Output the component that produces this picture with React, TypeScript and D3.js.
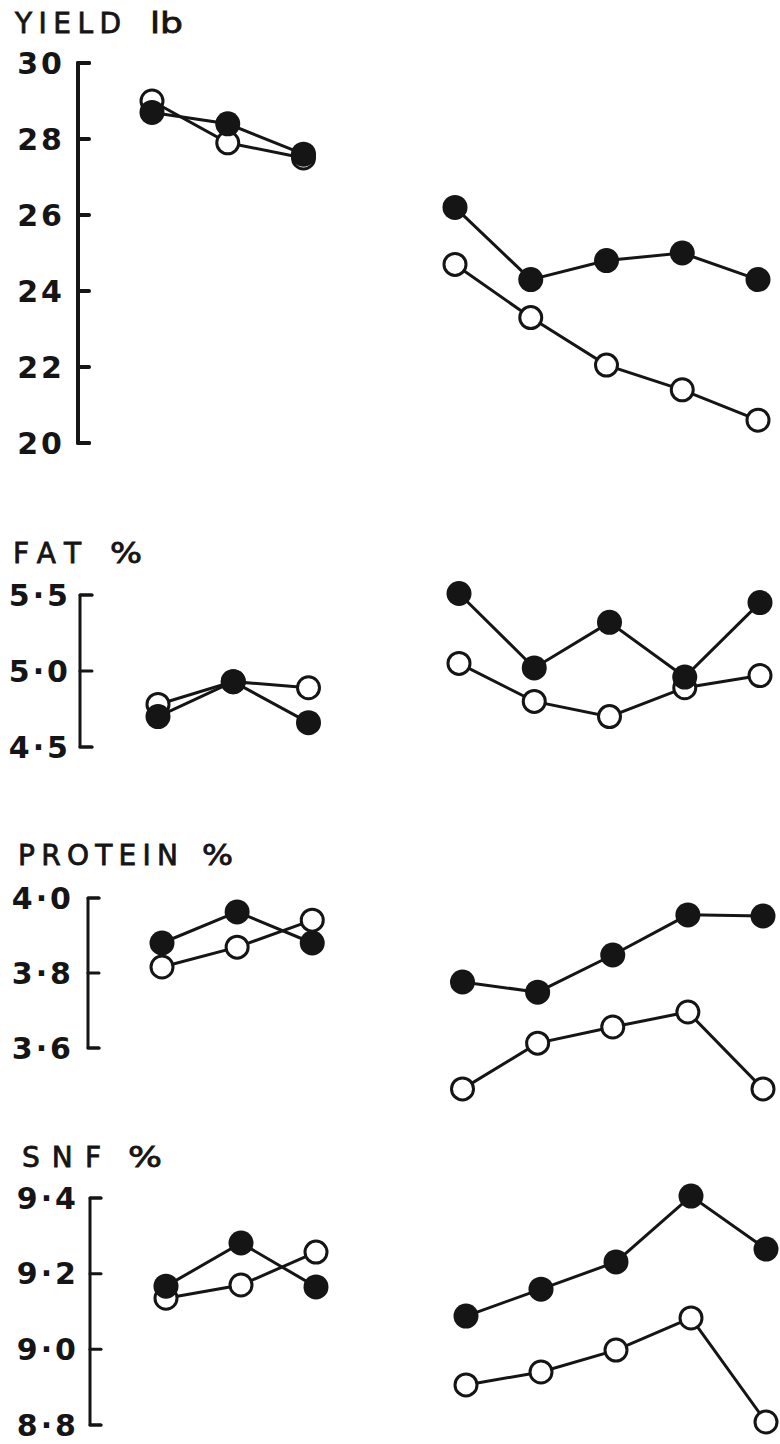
import React from "react";
import * as d3 from "d3";

// ---- Data ----
const leftPeriods = [1, 2, 3];
const rightPeriods = [5, 6, 7, 8, 9];

const yieldFilledLeft = [28.7, 28.4, 27.6];
const yieldOpenLeft = [29.0, 27.9, 27.5];
const yieldFilledRight = [26.2, 24.3, 24.8, 25.0, 24.3];
const yieldOpenRight = [24.7, 23.3, 22.05, 21.4, 20.6];

const fatFilledLeft = [4.7, 4.93, 4.66];
const fatOpenLeft = [4.78, 4.93, 4.89];
const fatFilledRight = [5.51, 5.02, 5.32, 4.96, 5.45];
const fatOpenRight = [5.05, 4.8, 4.7, 4.89, 4.97];

const proteinFilledLeft = [3.88, 3.963, 3.88];
const proteinOpenLeft = [3.816, 3.869, 3.941];
const proteinFilledRight = [3.776, 3.749, 3.848, 3.955, 3.952];
const proteinOpenRight = [3.491, 3.613, 3.656, 3.696, 3.491];

const snfFilledLeft = [9.167, 9.281, 9.165];
const snfOpenLeft = [9.135, 9.17, 9.257];
const snfFilledRight = [9.088, 9.159, 9.231, 9.405, 9.265];
const snfOpenRight = [8.906, 8.94, 8.998, 9.083, 8.808];

const yieldTicks = [20, 22, 24, 26, 28, 30];
const fatTicks = [4.5, 5.0, 5.5];
const proteinTicks = [3.6, 3.8, 4.0];
const snfTicks = [8.8, 9.0, 9.2, 9.4];

const titles = ["YIELD", "FAT", "PROTEIN", "SNF"];
const units = ["lb", "%", "%", "%"];

// ---- Layout ----
type Panel = {
  title: string;
  unit: string;
  titleX: number;
  titleW: number;
  unitX: number;
  unitW: number;
  titleY: number;
  domain: [number, number];
  yRange: [number, number];
  xRange: [number, number];
  axisX: number;
  axisW: number;
  tickLen: number;
  labelRight: number;
  ticks: number[];
  fmt: (v: number) => string;
  filledLeft: number[];
  openLeft: number[];
  filledRight: number[];
  openRight: number[];
};

const dotFmt = (v: number) => d3.format(".1f")(v).replace(".", "\u00b7");
const intFmt = (v: number) => d3.format("d")(v);

const panels: Panel[] = [
  {
    title: titles[0], unit: units[0], titleX: 15, titleW: 106, unitX: 150, unitW: 33, titleY: 33,
    domain: [20, 30], yRange: [443, 63], xRange: [152, 758],
    axisX: 78, axisW: 4, tickLen: 11, labelRight: 65, ticks: yieldTicks, fmt: intFmt,
    filledLeft: yieldFilledLeft, openLeft: yieldOpenLeft,
    filledRight: yieldFilledRight, openRight: yieldOpenRight,
  },
  {
    title: titles[1], unit: units[1], titleX: 13, titleW: 68, unitX: 110, unitW: 32, titleY: 563,
    domain: [4.5, 5.5], yRange: [747, 595], xRange: [158, 760],
    axisX: 80, axisW: 3, tickLen: 12, labelRight: 71, ticks: fatTicks, fmt: dotFmt,
    filledLeft: fatFilledLeft, openLeft: fatOpenLeft,
    filledRight: fatFilledRight, openRight: fatOpenRight,
  },
  {
    title: titles[2], unit: units[2], titleX: 18, titleW: 160, unitX: 202, unitW: 31, titleY: 865,
    domain: [3.6, 4.0], yRange: [1048, 898], xRange: [162, 763],
    axisX: 88, axisW: 3, tickLen: 11, labelRight: 74, ticks: proteinTicks, fmt: dotFmt,
    filledLeft: proteinFilledLeft, openLeft: proteinOpenLeft,
    filledRight: proteinFilledRight, openRight: proteinOpenRight,
  },
  {
    title: titles[3], unit: units[3], titleX: 22, titleW: 79, unitX: 128, unitW: 34, titleY: 1167,
    domain: [8.8, 9.4], yRange: [1425, 1198], xRange: [166, 766],
    axisX: 90, axisW: 3, tickLen: 11, labelRight: 79, ticks: snfTicks, fmt: dotFmt,
    filledLeft: snfFilledLeft, openLeft: snfOpenLeft,
    filledRight: snfFilledRight, openRight: snfOpenRight,
  },
];

const FONT = "'DejaVu Sans', sans-serif";
const INK = "#151515";
const R_FILLED = 12.5;
const R_OPEN = 11;

function PanelView({ p }: { p: Panel }) {
  const x = d3.scaleLinear().domain([1, 9]).range(p.xRange);
  const y = d3.scaleLinear().domain(p.domain).range(p.yRange);
  const line = d3
    .line<[number, number]>()
    .x((d) => x(d[0]))
    .y((d) => y(d[1]));

  const groups = [
    { periods: leftPeriods, filled: p.filledLeft, open: p.openLeft },
    { periods: rightPeriods, filled: p.filledRight, open: p.openRight },
  ];

  const [lo, hi] = p.domain;
  const bracket = d3.path();
  bracket.moveTo(p.axisX + p.tickLen, y(hi));
  bracket.lineTo(p.axisX, y(hi));
  bracket.lineTo(p.axisX, y(lo));
  bracket.lineTo(p.axisX + p.tickLen, y(lo));

  return (
    <g>
      <text
        x={p.titleX}
        y={p.titleY}
        fontFamily={FONT}
        fontSize={28}
        stroke={INK}
        strokeWidth={0.8}
        textLength={p.titleW}
        lengthAdjust="spacing"
        fill={INK}
      >
        {p.title}
      </text>
      <text
        x={p.unitX}
        y={p.titleY}
        fontFamily={FONT}
        fontSize={28}
        stroke={INK}
        strokeWidth={0.8}
        textLength={p.unitW}
        lengthAdjust="spacingAndGlyphs"
        fill={INK}
      >
        {p.unit}
      </text>

      <path
        d={bracket.toString()}
        fill="none"
        stroke={INK}
        strokeWidth={p.axisW}
        strokeLinejoin="round"
        strokeLinecap="round"
      />
      {p.ticks.map((t) => (
        <g key={t}>
          <line
            x1={p.axisX}
            x2={p.axisX + p.tickLen}
            y1={y(t)}
            y2={y(t)}
            stroke={INK}
            strokeWidth={p.axisW}
            strokeLinecap="round"
          />
          <text
            x={p.labelRight}
            y={y(t)}
            dy="0.36em"
            textAnchor="end"
            fontFamily={FONT}
            fontWeight="bold"
            fontSize={30}
            letterSpacing={3}
            fill={INK}
          >
            {p.fmt(t)}
          </text>
        </g>
      ))}

      {groups.map((g, gi) => {
        const fPts = g.periods.map((k, i) => [k, g.filled[i]] as [number, number]);
        const oPts = g.periods.map((k, i) => [k, g.open[i]] as [number, number]);
        return (
          <g key={gi}>
            <path d={line(oPts) || ""} fill="none" stroke={INK} strokeWidth={3} />
            <path d={line(fPts) || ""} fill="none" stroke={INK} strokeWidth={3} />
            {oPts.map((d, i) => (
              <circle key={"o" + i} cx={x(d[0])} cy={y(d[1])} r={R_OPEN} fill="#fff" stroke={INK} strokeWidth={3} />
            ))}
            {fPts.map((d, i) => (
              <circle key={"f" + i} cx={x(d[0])} cy={y(d[1])} r={R_FILLED} fill={INK} />
            ))}
          </g>
        );
      })}
    </g>
  );
}

export default function App() {
  return (
    <svg
      width={780}
      height={1444}
      style={{ position: "absolute", left: 0, top: 0, background: "#fff" }}
    >
      <rect width={780} height={1444} fill="#fff" />
      {panels.map((p, i) => (
        <PanelView key={i} p={p} />
      ))}
    </svg>
  );
}
